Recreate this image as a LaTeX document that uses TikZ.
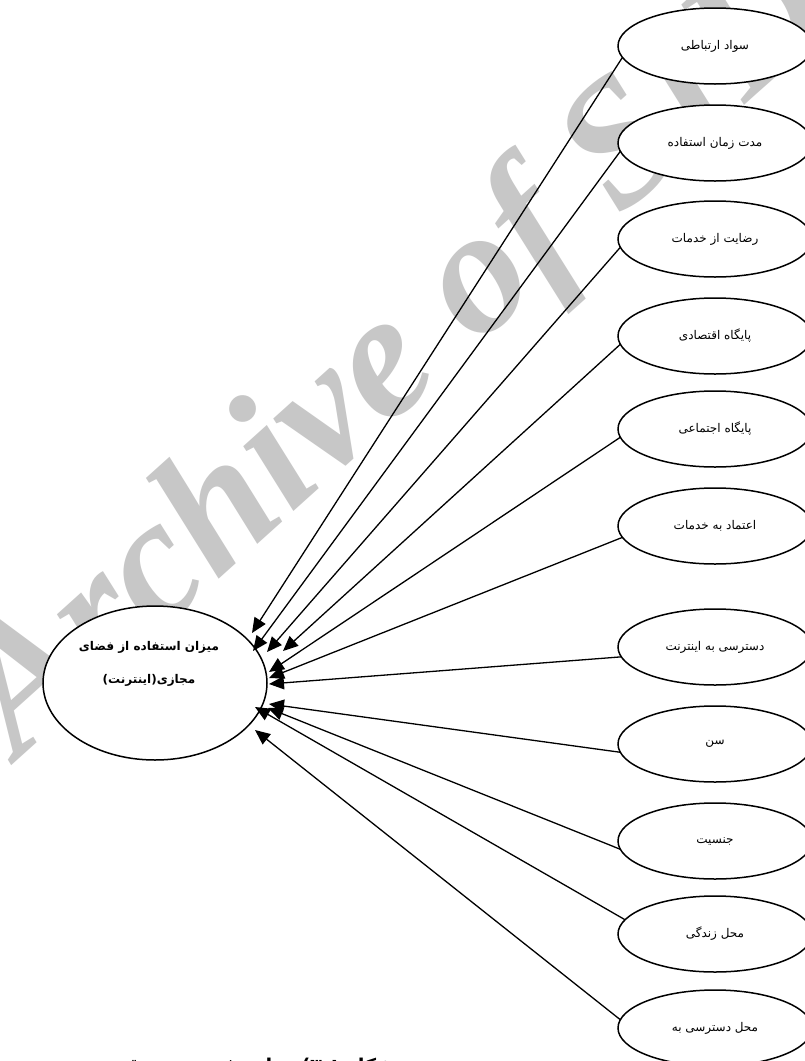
\documentclass[tikz,border=0pt]{standalone}
\usepackage{fontspec}
\usetikzlibrary{shapes.geometric,arrows.meta}
\TeXXeTstate=1
\newfontfamily\arabicfont[Script=Arabic]{DejaVu Sans}
\newfontfamily\wmfont{Liberation Serif}
\begin{document}
\begin{tikzpicture}[x=1pt,y=-1pt,
  sat/.style={ellipse, draw, line width=1.5pt, fill=white, minimum width=194pt, minimum height=76pt, inner sep=0pt, outer sep=0pt, font=\arabicfont\fontsize{12}{14}\selectfont},
  mainnode/.style={ellipse, draw, line width=1.5pt, fill=white, minimum width=224pt, minimum height=154pt, inner sep=0pt, outer sep=0pt},
  maintext/.style={inner sep=0pt, align=center, font=\arabicfont\bfseries\fontsize{12}{33}\selectfont},
  arr/.style={line width=1.3pt, -{Triangle[length=15pt,width=13pt]}},
  wmstyle/.style={rotate=42, anchor=base west, text=black!22, inner sep=0pt, font=\wmfont\itshape\bfseries\fontsize{178}{178}\selectfont},
  capstyle/.style={anchor=base east, inner sep=0pt, font=\arabicfont\bfseries\fontsize{19}{19}\selectfont}]
\fill[white] (0,0) rectangle (805,1061);
\useasboundingbox (0,0) rectangle (805,1061);
\node[wmstyle] (wm) at (18,760) {Archive of SID};

\node[mainnode] (m) at (155,683) {};
\node[maintext] (mt) at (149,664) {\beginR میزان استفاده از فضای\endR\\\beginR مجازی(اینترنت)\endR};

\node[sat] (e1) at (715,46) {\beginR سواد ارتباطی\endR};
\node[sat] (e2) at (715,143) {\beginR مدت زمان استفاده\endR};
\node[sat] (e3) at (715,239) {\beginR رضایت از خدمات\endR};
\node[sat] (e4) at (715,336) {\beginR پایگاه اقتصادی\endR};
\node[sat] (e5) at (715,429) {\beginR پایگاه اجتماعی\endR};
\node[sat] (e6) at (715,526) {\beginR اعتماد به خدمات\endR};
\node[sat] (e7) at (715,647) {\beginR دسترسی به اینترنت\endR};
\node[sat] (e8) at (715,744) {\beginR سن\endR};
\node[sat] (e9) at (715,841) {\beginR جنسیت\endR};
\node[sat] (e10) at (715,934) {\beginR محل زندگی\endR};
\node[sat] (e11) at (715,1028) {\beginR محل دسترسی به\endR};

\coordinate (t1) at (252,633);
\coordinate (t2) at (253,651);
\coordinate (t3) at (267,652);
\coordinate (t4) at (283,651);
\coordinate (t5) at (269,672);
\coordinate (t6) at (269,678);
\coordinate (t7) at (269,684);
\coordinate (t8) at (269,704);
\coordinate (t9) at (268,708);
\coordinate (t10) at (255,707);
\coordinate (t11) at (255,730);

\draw[arr] (e1.187) -- (t1);
\draw[arr] (e2.185) -- (t2);
\draw[arr] (e3.185) -- (t3);
\draw[arr] (e4.185) -- (t4);
\draw[arr] (e5.185) -- (t5);
\draw[arr] (e6.187) -- (t6);
\draw[arr] (e7.186) -- (t7);
\draw[arr] (e8.185) -- (t8);
\draw[arr] (e9.185) -- (t9);
\draw[arr] (e10.171) -- (t10);
\draw[arr] (e11.175) -- (t11);

\node[capstyle] (cap) at (395,1072) {\beginR شکل ۳-۱) مدل مفهومی تحقیق\endR};
\end{tikzpicture}
\end{document}
